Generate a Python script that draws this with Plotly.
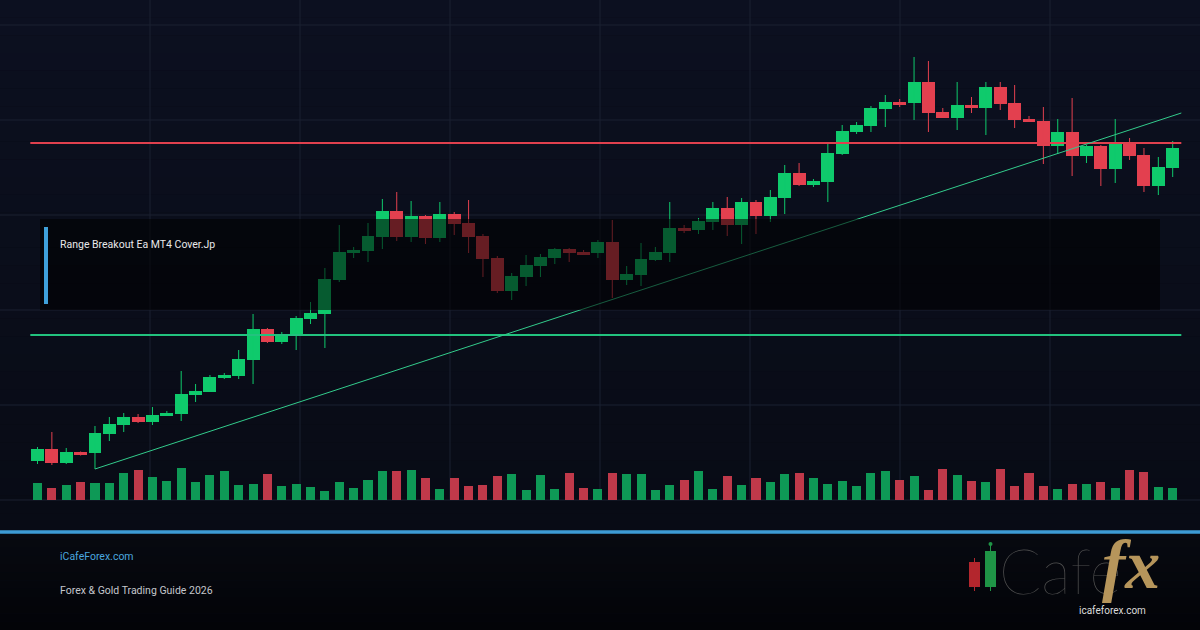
import plotly.graph_objects as go

# ---------------- data ----------------
opens = [39, 51, 37, 48, 47, 66, 75, 83, 78, 84, 86, 105, 108, 122, 124, 140, 171, 158, 165, 181,
         186, 220, 247, 249, 263, 289, 263, 284, 262, 286, 277, 264, 242, 209, 223, 234, 242, 251, 248, 247,
         258, 220, 225, 240, 247, 272, 270, 278, 292, 275, 298, 284, 302, 327, 315, 318, 346, 368, 374, 391,
         398, 397, 418, 388, 382, 395, 392, 413, 397, 381, 379, 354, 368, 344, 354, 331, 356, 345, 314, 332]
highs = [53, 68, 52, 48.5, 74, 83, 87, 86, 93, 89, 129, 116, 125, 127, 150, 186, 172, 168, 184, 198,
         232, 275, 253, 277, 301, 308, 299, 285, 298, 288, 300, 266, 244, 227, 245, 246, 252, 252, 250, 260,
         280, 234, 257, 253, 298, 275, 282, 298, 303, 302, 300, 310, 335, 337, 321, 356, 375, 378, 394, 405,
         401, 443, 439, 392, 418, 403, 418, 418, 415, 384, 393, 381, 402, 355, 355, 381, 362, 352, 343, 359]
lows = [36, 35, 36, 44.5, 31, 59, 68, 77, 75, 84, 79, 98, 108, 121, 121, 116, 157, 156, 150, 176,
        152, 218, 242, 238, 251, 259, 258, 256, 258, 265, 247, 223, 207, 200, 214, 223, 236, 238, 245, 242,
        202, 215, 214, 239, 238, 267, 266, 270, 264, 256, 266, 278, 286, 314, 313, 298, 345, 366, 368, 373,
        393, 380, 368, 382, 370, 387, 365, 390, 372, 378, 336, 346, 324, 337, 314, 317, 340, 308, 305, 323]
closes = [51, 37, 48, 45, 67, 76, 83, 78, 85, 87, 106, 109, 123, 125, 141, 171, 158, 165, 182, 187,
          221, 248, 250, 264, 289, 263, 284, 262, 286, 276, 263, 241, 209, 224, 235, 243, 251, 247, 245, 258,
          220, 226, 241, 248, 272, 269, 279, 292, 275, 298, 284, 303, 327, 315, 319, 347, 369, 375, 392, 398,
          395, 418, 387, 382, 395, 392, 413, 396, 380, 378, 354, 368, 344, 354, 331, 356, 344, 314, 333, 352]
volumes = [17, 12, 15, 18, 17, 17, 27, 30, 23, 19, 32, 18, 25, 29, 15, 16, 26, 14, 16, 13,
           9, 18, 12, 20, 29, 29, 30, 22, 11, 22, 14, 15, 24, 26, 10, 25, 11, 27, 12, 11,
           27, 26, 26, 10, 15, 20, 29, 11, 24, 15, 22, 18, 26, 27, 22, 16, 19, 14, 27, 29,
           20, 24, 10, 31, 25, 19, 18, 31, 14, 27, 14, 11, 16, 16, 18, 12, 30, 28, 13, 12]
bars = list(range(len(opens)))

support_level = 165
resistance_level = 357
level_x = [-0.5, 79.6]
trend_x = [4, 79.6]
trend_y = [31, 387]

title_text = "Range Breakout Ea MT4 Cover.Jp"
site_text = "iCafeForex.com"
guide_text = "Forex & Gold Trading Guide 2026"
logo_url_text = "icafeforex.com"

# ---------------- styles ----------------
W, H = 1200, 630
GREEN = "#0fca6c"
RED = "#e3404f"
VGREEN = "#0e9956"
VRED = "#c0394a"
GRID = "#1b2031"


def px(x):
    return x / W


def py(y):
    return 1 - y / H


def lerp(c1, c2, t):
    a = [int(c1[i:i + 2], 16) for i in (1, 3, 5)]
    b = [int(c2[i:i + 2], 16) for i in (1, 3, 5)]
    return "rgb(%d,%d,%d)" % tuple(round(a[k] + (b[k] - a[k]) * t) for k in range(3))


shapes = []
n = 30
for k in range(n):
    y0, y1 = 531 * k / n, 531 * (k + 1) / n
    shapes.append(dict(type="rect", xref="paper", yref="paper", x0=0, x1=1,
                       y0=py(y1), y1=py(y0), line=dict(width=0),
                       fillcolor=lerp("#0c1020", "#080b15", k / (n - 1)), layer="below"))
m = 12
for k in range(m):
    y0, y1 = 531 + 99 * k / m, 531 + 99 * (k + 1) / m
    shapes.append(dict(type="rect", xref="paper", yref="paper", x0=0, x1=1,
                       y0=py(y1), y1=py(y0), line=dict(width=0),
                       fillcolor=lerp("#070910", "#030408", k / (m - 1)), layer="below"))
for gx in range(150, 1200, 150):
    shapes.append(dict(type="line", xref="paper", yref="paper", x0=px(gx), x1=px(gx),
                       y0=py(500), y1=1, line=dict(color=GRID, width=1), layer="below"))
for gy in range(25, 501, 95):
    shapes.append(dict(type="line", xref="paper", yref="paper", x0=0, x1=1,
                       y0=py(gy), y1=py(gy), line=dict(color=GRID, width=1), layer="below"))
shapes.append(dict(type="rect", xref="paper", yref="paper", x0=px(40), x1=px(1160),
                   y0=py(310), y1=py(219), line=dict(width=0),
                   fillcolor="rgba(0,0,0,0.55)", layer="above"))
shapes.append(dict(type="rect", xref="paper", yref="paper", x0=px(44), x1=px(48),
                   y0=py(304), y1=py(227), line=dict(width=0),
                   fillcolor="#3fa0da", layer="above"))
shapes.append(dict(type="rect", xref="paper", yref="paper", x0=0, x1=1,
                   y0=py(533.7), y1=py(530.3), line=dict(width=0),
                   fillcolor="#3d9bd5", layer="above"))
shapes += [
    dict(type="line", xref="paper", yref="paper", x0=px(974.5), x1=px(974.5), y0=py(591), y1=py(558),
         line=dict(color="#b3262d", width=1), layer="above"),
    dict(type="rect", xref="paper", yref="paper", x0=px(969), x1=px(980), y0=py(587), y1=py(562),
         line=dict(width=0), fillcolor="#b3262d", layer="above"),
    dict(type="line", xref="paper", yref="paper", x0=px(990.5), x1=px(990.5), y0=py(591), y1=py(544),
         line=dict(color="#1f9446", width=1), layer="above"),
    dict(type="circle", xref="paper", yref="paper", x0=px(988.5), x1=px(992.5), y0=py(546), y1=py(542),
         line=dict(width=0), fillcolor="#1f9446", layer="above"),
    dict(type="rect", xref="paper", yref="paper", x0=px(985), x1=px(996), y0=py(587), y1=py(551),
         line=dict(width=0), fillcolor="#1f9446", layer="above"),
]

annotations = [
    dict(text=title_text, x=px(58), y=py(245), xref="paper", yref="paper", xanchor="left",
         yanchor="middle", showarrow=False, font=dict(family="Roboto", size=10.5, color="#e8e8ea")),
    dict(text=site_text, x=px(58), y=py(556), xref="paper", yref="paper", xanchor="left",
         yanchor="middle", showarrow=False, font=dict(family="Roboto", size=10.5, color="#4aa6df")),
    dict(text=guide_text, x=px(58), y=py(590), xref="paper", yref="paper", xanchor="left",
         yanchor="middle", showarrow=False, font=dict(family="Roboto", size=10.5, color="#c4c7cc")),
    dict(text="Cafe", x=px(997), y=py(570), xref="paper", yref="paper", xanchor="left",
         yanchor="middle", showarrow=False,
         font=dict(family="Lato", size=62, color="#505050", weight=200)),
    dict(text="fx", x=px(1100), y=py(564), xref="paper", yref="paper", xanchor="left",
         yanchor="middle", showarrow=False,
         font=dict(family="Liberation Serif", size=70, color="#b6955b", weight="bold", style="italic")),
    dict(text=logo_url_text, x=px(1112), y=py(610), xref="paper", yref="paper", xanchor="center",
         yanchor="middle", showarrow=False, font=dict(family="Roboto", size=10, color="#dcdcdc")),
]

up = [c >= o for o, c in zip(opens, closes)]
vol_colors = [VGREEN if u else VRED for u in up]
body_colors = [GREEN if u else RED for u in up]
body_base = [min(o, c) for o, c in zip(opens, closes)]
body_len = [abs(c - o) for o, c in zip(opens, closes)]


def wick_xy(want_up):
    xs, ys = [], []
    for i, u in enumerate(up):
        if u == want_up:
            xs += [bars[i], bars[i], None]
            ys += [lows[i], highs[i], None]
    return xs, ys


fig = go.Figure()
fig.add_trace(go.Bar(x=bars, y=volumes, width=0.63, marker=dict(color=vol_colors, line=dict(width=0)),
                     yaxis="y2", hoverinfo="skip", showlegend=False))
for want, col in ((True, GREEN), (False, RED)):
    wx, wy = wick_xy(want)
    fig.add_trace(go.Scatter(x=wx, y=wy, mode="lines", line=dict(color=col, width=1),
                             hoverinfo="skip", showlegend=False, connectgaps=False))
fig.add_trace(go.Bar(x=bars, y=body_len, base=body_base, width=0.9,
                     marker=dict(color=body_colors, line=dict(width=0)),
                     hoverinfo="skip", showlegend=False))
fig.add_trace(go.Scatter(x=level_x, y=[support_level] * 2, mode="lines",
                         line=dict(color="#22c27e", width=2), showlegend=False, hoverinfo="skip"))
fig.add_trace(go.Scatter(x=level_x, y=[resistance_level] * 2, mode="lines",
                         line=dict(color="#e0404e", width=2), showlegend=False, hoverinfo="skip"))
fig.add_trace(go.Scatter(x=trend_x, y=trend_y, mode="lines",
                         line=dict(color="#33cc8c", width=1), showlegend=False, hoverinfo="skip"))

fig.update_layout(
    width=W, height=H, margin=dict(l=0, r=0, t=0, b=0, pad=0), autosize=False,
    paper_bgcolor="#080b15", plot_bgcolor="rgba(0,0,0,0)",
    barmode="overlay", bargap=0,
    xaxis=dict(range=[-2.61, 80.90], visible=False, fixedrange=True),
    yaxis=dict(range=[-130, 500], visible=False, fixedrange=True),
    yaxis2=dict(range=[-130, 500], visible=False, overlaying="y", fixedrange=True),
    shapes=shapes, annotations=annotations, showlegend=False,
)

fig.write_html("out.html")
